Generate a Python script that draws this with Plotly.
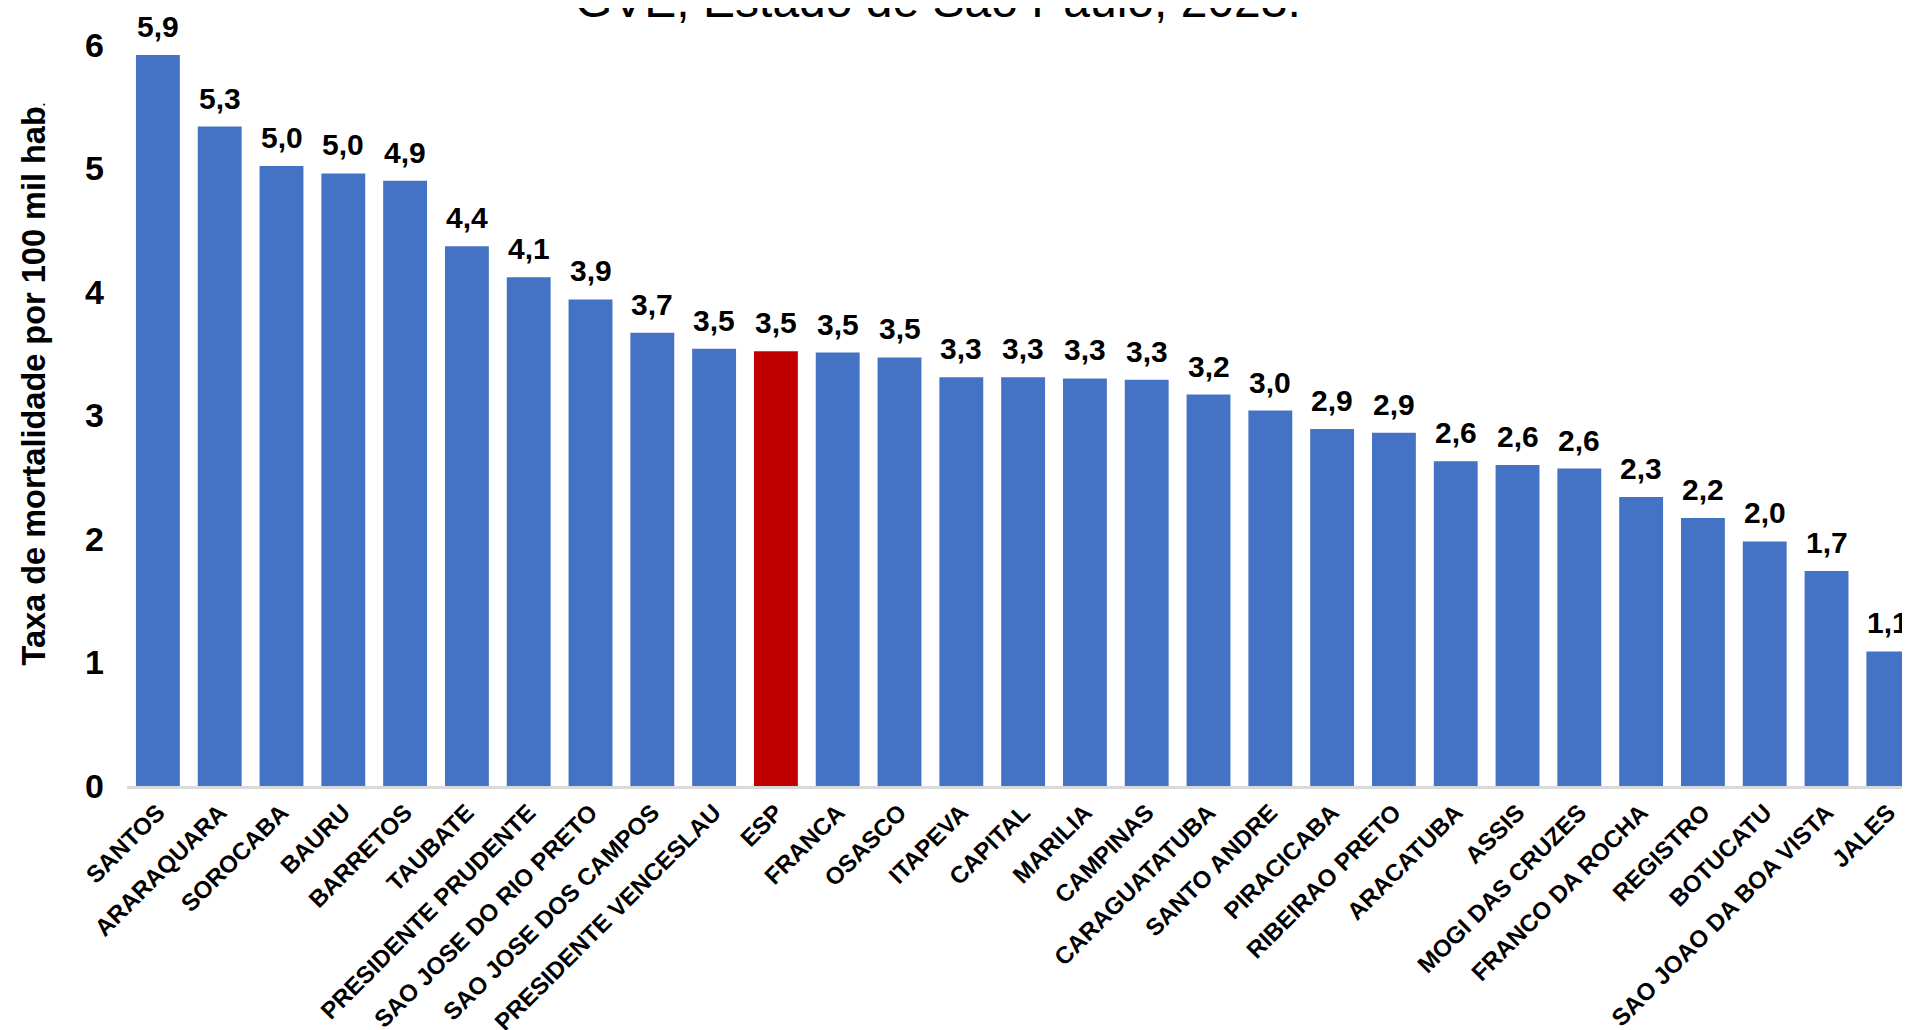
import plotly.graph_objects as go

# ---- data ----
categories = ["SANTOS", "ARARAQUARA", "SOROCABA", "BAURU", "BARRETOS", "TAUBATE",
              "PRESIDENTE PRUDENTE", "SAO JOSE DO RIO PRETO", "SAO JOSE DOS CAMPOS",
              "PRESIDENTE VENCESLAU", "ESP", "FRANCA", "OSASCO", "ITAPEVA", "CAPITAL",
              "MARILIA", "CAMPINAS", "CARAGUATATUBA", "SANTO ANDRE", "PIRACICABA",
              "RIBEIRAO PRETO", "ARACATUBA", "ASSIS", "MOGI DAS CRUZES", "FRANCO DA ROCHA",
              "REGISTRO", "BOTUCATU", "SAO JOAO DA BOA VISTA", "JALES"]
rates = [5.92, 5.34, 5.02, 4.96, 4.90, 4.37, 4.12, 3.94, 3.67, 3.54, 3.52, 3.51, 3.47,
         3.31, 3.31, 3.30, 3.29, 3.17, 3.04, 2.89, 2.86, 2.63, 2.60, 2.57, 2.34, 2.17,
         1.98, 1.74, 1.09]
y_ticks = [0, 1, 2, 3, 4, 5, 6]
highlight = "ESP"

title_text = "GVE, Estado de São Paulo, 2023."
y_title = "Taxa de mortalidade por 100 mil hab<span style='font-size:12px'>.</span>"

# ---- style ----
BLUE = "#4472C4"
RED = "#C00000"
FONT = "Liberation Sans, Arial, sans-serif"

colors = [RED if c == highlight else BLUE for c in categories]

fig = go.Figure()
fig.add_trace(go.Bar(
    x=categories, y=rates,
    marker=dict(color=colors, line=dict(width=0)),
    hoverinfo="skip",
))

annotations = []
for c, v in zip(categories, rates):
    annotations.append(dict(
        x=c, y=v, xref="x", yref="y",
        text=f"{v:.1f}".replace(".", ","),
        showarrow=False, yanchor="bottom", xanchor="center", yshift=10,
        font=dict(family=FONT, size=30, color="black", weight="bold"),
    ))

annotations.append(dict(
    x=-0.0522, y=0.5425, xref="paper", yref="paper",
    text=y_title, textangle=-90, showarrow=False,
    xanchor="center", yanchor="middle",
    font=dict(family=FONT, size=32.5, color="black", weight="bold"),
))
annotations.append(dict(
    x=0.4526, y=1.0216, xref="paper", yref="paper",
    text=title_text, showarrow=False, xanchor="center", yanchor="bottom",
    font=dict(family=FONT, size=48, color="black"),
))

fig.update_layout(
    width=1910, height=1030,
    margin=dict(l=119, r=0, t=37, b=252, autoexpand=False),
    paper_bgcolor="white", plot_bgcolor="white",
    bargap=0.29,
    showlegend=False,
    annotations=annotations,
    xaxis=dict(
        range=[-0.5, 28.48],
        tickangle=-45,
        tickfont=dict(family=FONT, size=24, color="black", weight="bold"),
        showline=True, linecolor="#D9D9D9", linewidth=3,
        ticks="", showgrid=False, zeroline=False,
    ),
    yaxis=dict(
        range=[0, 6],
        tickvals=y_ticks,
        tickfont=dict(family=FONT, size=34, color="black", weight="bold"),
        showline=False, ticks="", showgrid=False, zeroline=False,
        ticklabelstandoff=22,
    ),
)

fig.write_html("out.html")
